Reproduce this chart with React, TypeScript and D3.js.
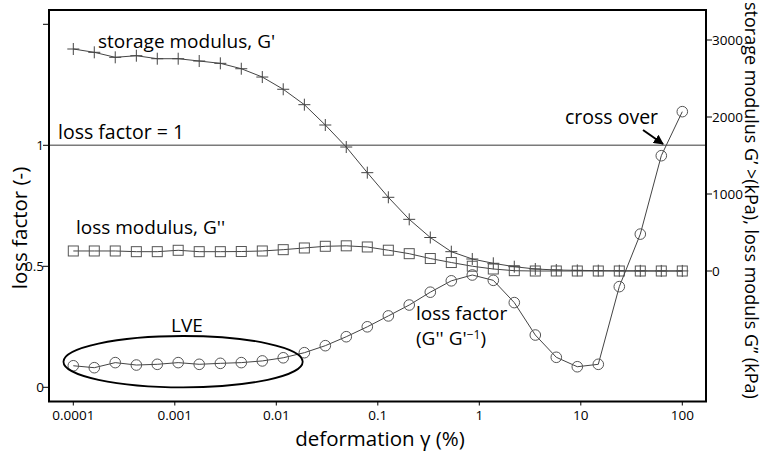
import React from "react";
import * as d3 from "d3";

// strain (%) — measurement points
const strain = [
  0.0001, 0.000161, 0.000259, 0.000418, 0.000672, 0.00108, 0.00174, 0.00281,
  0.00452, 0.00728, 0.0117, 0.0189, 0.0304, 0.0489, 0.0788, 0.127, 0.204,
  0.329, 0.53, 0.853, 1.374, 2.212, 3.562, 5.736, 9.237, 14.87, 23.95, 38.57,
  62.1, 100,
];
// storage modulus G' (kPa)
const storageModulus = [
  2883, 2840, 2775, 2796, 2757, 2757, 2727, 2697, 2627, 2519, 2360, 2160, 1896,
  1610, 1277, 957, 671, 435, 251, 156, 100, 56, 26, 13, 8, 5, 3, 2, 1, 1,
];
// loss modulus G'' (kPa)
const lossModulus = [
  260, 260, 260, 251, 251, 269, 251, 251, 253, 260, 277, 299, 321, 327, 312,
  270, 225, 162, 110, 62, 26, 4, 0, 0, 0, 0, 0, 0, 0, 0,
];
// loss factor G''/G' (-)
const lossFactor = [
  0.089, 0.081, 0.102, 0.092, 0.095, 0.102, 0.095, 0.099, 0.102, 0.109, 0.122,
  0.143, 0.172, 0.209, 0.25, 0.295, 0.34, 0.393, 0.44, 0.464, 0.442, 0.35,
  0.216, 0.124, 0.085, 0.095, 0.416, 0.633, 0.957, 1.139,
];

const xTicks = [0.0001, 0.001, 0.01, 0.1, 1, 10, 100];
const xTickLabels = ["0.0001", "0.001", "0.01", "0.1", "1", "10", "100"];
const leftTicks = [0, 0.5, 1, 1.5];
const leftTickLabels = ["0", "0.5", "1", ""];
const rightTicks = [0, 1000, 2000, 3000];
const rightTickLabels = ["0", "1000", "2000", "3000"];

// LVE ellipse extent (data units)
const lveStrain = [0.00008, 0.0182];
const lveFactor = [0.0, 0.212];

const W = 765;
const H = 457;
const FONT = "'Open Sans', 'Noto Sans', sans-serif";

export default function App() {
  const frame = { left: 49, right: 706, top: 10, bottom: 401.5 };
  const x = d3.scaleLog().domain([1e-4, 100]).range([73.3, 682.3]);
  const yL = d3.scaleLinear().domain([0, 1.5]).range([387.3, 24.3]);
  const yR = d3.scaleLinear().domain([0, 3000]).range([271, 40]);

  const lineG = d3
    .line<number>()
    .x((_, i) => x(strain[i]))
    .y((d) => yR(d));
  const lineLF = d3
    .line<number>()
    .x((_, i) => x(strain[i]))
    .y((d) => yL(d));

  const lineColor = "#444";
  const markColor = "#555";

  const ex0 = x(lveStrain[0]);
  const ex1 = x(lveStrain[1]);
  const ey0 = yL(lveFactor[1]);
  const ey1 = yL(lveFactor[0]);

  const annSize = 19;
  const tickSize = 13.5;

  return (
    <div style={{ position: "fixed", left: 0, top: 0 }}>
      <svg width={W} height={H} style={{ display: "block", background: "#fff" }} fontFamily={FONT}>
        <defs>
          <marker id="arrow" viewBox="0 0 10 10" refX="9" refY="5" markerWidth="5" markerHeight="5" orient="auto">
            <path d="M0,0 L10,5 L0,10 z" fill="#000" />
          </marker>
        </defs>

        {/* loss factor = 1 line */}
        <line x1={frame.left} x2={frame.right} y1={yL(1)} y2={yL(1)} stroke="#7a7a7a" strokeWidth={1.4} />

        {/* storage modulus */}
        <path d={lineG(storageModulus) || ""} fill="none" stroke={lineColor} strokeWidth={1} />
        {storageModulus.map((v, i) => (
          <g key={"g1" + i} stroke="#444" strokeWidth={1}>
            <line x1={x(strain[i]) - 6} x2={x(strain[i]) + 6} y1={yR(v)} y2={yR(v)} />
            <line x1={x(strain[i])} x2={x(strain[i])} y1={yR(v) - 6} y2={yR(v) + 6} />
          </g>
        ))}

        {/* loss modulus */}
        <path d={lineG(lossModulus) || ""} fill="none" stroke={lineColor} strokeWidth={1} />
        {lossModulus.map((v, i) => (
          <rect key={"g2" + i} x={x(strain[i]) - 5} y={yR(v) - 5} width={10} height={10} fill="none" stroke={markColor} strokeWidth={1} />
        ))}

        {/* loss factor */}
        <path d={lineLF(lossFactor) || ""} fill="none" stroke={lineColor} strokeWidth={1} />
        {lossFactor.map((v, i) => (
          <circle key={"lf" + i} cx={x(strain[i])} cy={yL(v)} r={5.3} fill="none" stroke={markColor} strokeWidth={1} />
        ))}

        {/* LVE ellipse */}
        <ellipse cx={(ex0 + ex1) / 2} cy={(ey0 + ey1) / 2} rx={(ex1 - ex0) / 2} ry={(ey1 - ey0) / 2} fill="none" stroke="#000" strokeWidth={1.8} />

        {/* frame */}
        <rect x={frame.left} y={frame.top} width={frame.right - frame.left} height={frame.bottom - frame.top} fill="none" stroke="#000" strokeWidth={2} />

        {/* bottom axis */}
        {xTicks.map((t, i) => (
          <g key={"xt" + i}>
            <line x1={x(t)} x2={x(t)} y1={frame.bottom} y2={frame.bottom + 4} stroke="#000" strokeWidth={1} />
            <text x={x(t)} y={420} textAnchor="middle" fontSize={tickSize} fill="#000">
              {xTickLabels[i]}
            </text>
          </g>
        ))}

        {/* left axis */}
        {leftTicks.map((t, i) => (
          <g key={"lt" + i}>
            <line x1={frame.left - 6} x2={frame.left} y1={yL(t)} y2={yL(t)} stroke="#000" strokeWidth={1} />
            <text x={frame.left - 5} y={yL(t) + 5} textAnchor="end" fontSize={tickSize} fill="#000">
              {leftTickLabels[i]}
            </text>
          </g>
        ))}

        {/* right axis */}
        {rightTicks.map((t, i) => (
          <g key={"rt" + i}>
            <line x1={frame.right} x2={frame.right + 6} y1={yR(t)} y2={yR(t)} stroke="#000" strokeWidth={1} />
            <text x={frame.right + 6} y={yR(t) + 5} textAnchor="start" fontSize={tickSize} fill="#000">
              {rightTickLabels[i]}
            </text>
          </g>
        ))}

        {/* axis titles */}
        <text x={380} y={446} textAnchor="middle" fontSize={20.5} fill="#000">
          deformation γ (%)
        </text>
        <text transform="translate(27,228) rotate(-90)" textAnchor="middle" fontSize={20.5} fill="#000">
          loss factor (-)
        </text>
        <text transform="translate(745,2) rotate(90)" textAnchor="start" fontSize={18} fill="#000">
          storage modulus G’ &gt;(kPa), loss moduls G’’ (kPa)
        </text>

        {/* annotations */}
        <text x={98} y={48} fontSize={annSize} fill="#000">storage modulus, G'</text>
        <text x={58} y={139} fontSize={annSize + 0.5} fill="#000">loss factor = 1</text>
        <text x={76} y={234} fontSize={annSize} fill="#000">loss modulus, G''</text>
        <text x={171} y={332} fontSize={annSize} fill="#000">LVE</text>
        <text x={416} y={320} fontSize={annSize} fill="#000">loss factor</text>
        <text x={416} y={345} fontSize={annSize} fill="#000">
          (G'' G'<tspan fontSize={12} dy={-6}>−1</tspan><tspan dy={6}>)</tspan>
        </text>
        <text x={565} y={124} fontSize={annSize + 0.5} fill="#000">cross over</text>
        <line x1={643} y1={130} x2={663} y2={144} stroke="#000" strokeWidth={2} markerEnd="url(#arrow)" />
      </svg>
    </div>
  );
}
